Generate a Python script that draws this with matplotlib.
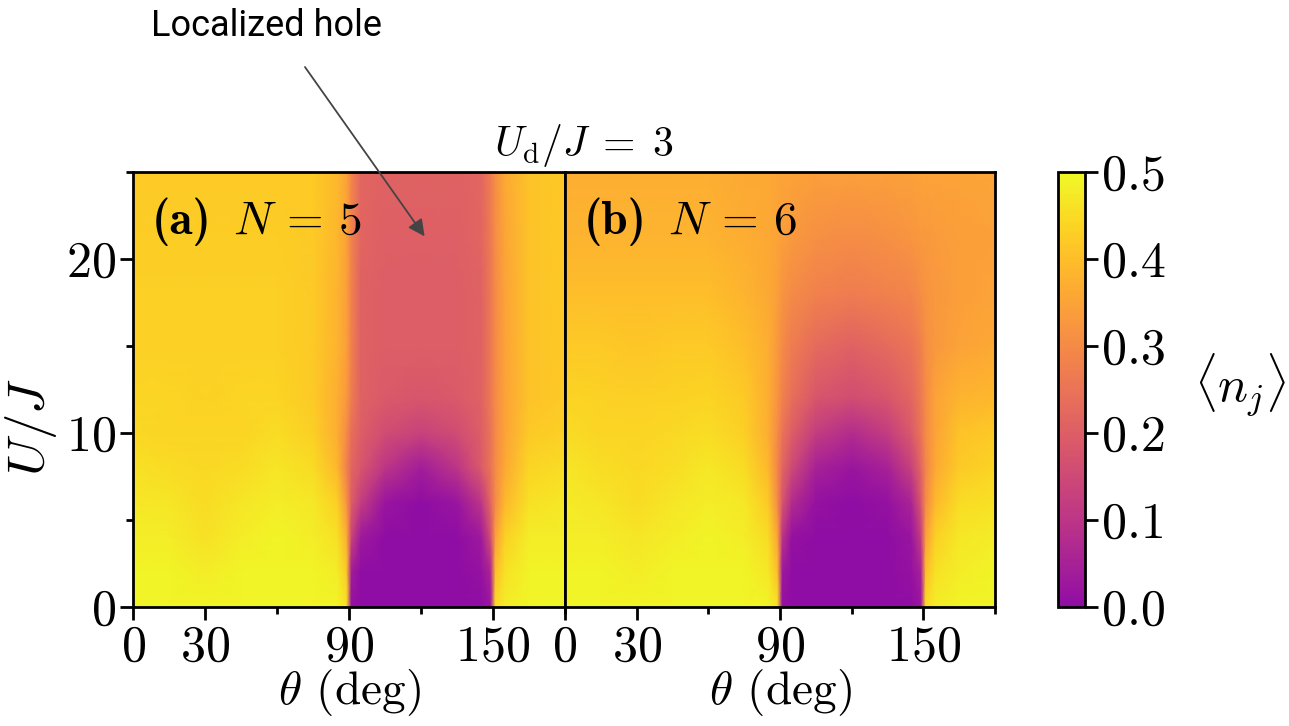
import numpy as np
import matplotlib
matplotlib.use("Agg")
import matplotlib.pyplot as plt
from matplotlib.colors import ListedColormap
from matplotlib.ticker import FormatStrFormatter

plt.rcParams["font.family"] = "serif"
plt.rcParams["font.serif"] = ["cmr10"]
plt.rcParams["mathtext.fontset"] = "cm"
plt.rcParams["axes.formatter.use_mathtext"] = True

# ---------------------------------------------------------------------------
# Data: <n_j> on a (U/J, theta) grid
# ---------------------------------------------------------------------------
theta_deg = [0, 15, 30, 45, 60, 75, 85, 89, 91, 95, 105, 120, 135, 145, 149, 151, 155, 165, 180]
u_over_j = [0, 2, 4, 6, 8, 10, 12, 15, 18, 21, 25]

# N = 5, one row per U/J value
density_n5 = [
    [.49, .49, .49, .49, .49, .49, .49, .46, .01, .00, .00, .00, .00, .00, .02, .45, .48, .49, .49],
    [.49, .49, .48, .49, .49, .49, .48, .42, .04, .00, .00, .00, .00, .01, .06, .40, .46, .49, .49],
    [.48, .48, .46, .48, .49, .48, .46, .37, .14, .03, .00, .00, .00, .03, .16, .34, .43, .48, .48],
    [.47, .465, .45, .465, .48, .47, .43, .32, .20, .12, .02, .00, .02, .10, .22, .30, .39, .46, .47],
    [.46, .45, .445, .45, .465, .45, .39, .28, .22, .18, .10, .04, .10, .19, .25, .30, .36, .44, .45],
    [.445, .44, .44, .44, .45, .43, .37, .30, .24, .20, .16, .13, .16, .20, .25, .30, .35, .42, .43],
    [.44, .44, .435, .44, .44, .42, .37, .33, .27, .21, .19, .18, .19, .21, .26, .30, .35, .41, .42],
    [.43, .43, .43, .43, .43, .42, .38, .34, .28, .21, .20, .20, .20, .21, .26, .30, .35, .41, .42],
    [.43, .43, .43, .43, .43, .42, .38, .34, .28, .21, .20, .20, .20, .21, .26, .30, .35, .41, .42],
    [.425, .425, .425, .425, .425, .42, .385, .345, .285, .215, .205, .205, .205, .215, .265, .305, .355, .41, .42],
    [.42, .42, .42, .42, .42, .42, .39, .35, .29, .22, .21, .21, .21, .22, .27, .31, .36, .41, .42],
]

# N = 6
density_n6 = [
    [.49, .49, .49, .49, .49, .49, .49, .46, .01, .00, .00, .00, .00, .00, .02, .45, .48, .49, .49],
    [.49, .49, .48, .49, .49, .49, .47, .40, .03, .00, .00, .00, .00, .01, .05, .40, .46, .48, .49],
    [.48, .48, .465, .48, .49, .48, .45, .35, .10, .01, .00, .00, .00, .02, .12, .34, .43, .47, .48],
    [.475, .465, .45, .465, .48, .47, .42, .30, .18, .08, .01, .00, .01, .06, .18, .30, .39, .45, .46],
    [.465, .455, .445, .455, .47, .45, .39, .29, .22, .15, .05, .02, .05, .13, .22, .29, .36, .42, .44],
    [.45, .44, .44, .445, .455, .43, .37, .30, .25, .20, .12, .08, .12, .19, .25, .30, .35, .41, .42],
    [.44, .435, .43, .435, .44, .42, .37, .32, .28, .24, .18, .16, .18, .22, .26, .30, .35, .38, .39],
    [.42, .42, .415, .42, .42, .40, .37, .33, .30, .27, .23, .21, .23, .25, .28, .31, .33, .35, .36],
    [.40, .40, .40, .40, .40, .38, .36, .34, .32, .30, .28, .27, .28, .29, .31, .32, .33, .34, .35],
    [.38, .38, .38, .38, .38, .37, .36, .35, .34, .33, .31, .30, .31, .32, .33, .33, .335, .34, .345],
    [.37, .37, .37, .37, .37, .36, .36, .355, .35, .35, .34, .34, .34, .345, .35, .35, .35, .35, .355],
]

panel_tags = ["(a)", "(b)"]
panel_n = [r"$N\,=\,5$", r"$N\,=\,6$"]
x_major = [0, 30, 90, 150]
x_minor = [60, 120, 180]
y_major = [0, 10, 20]
y_minor = [5, 15, 25]
cbar_ticks = [0.0, 0.1, 0.2, 0.3, 0.4, 0.5]

# plasma without its dark-blue end
cmap = ListedColormap(plt.cm.plasma(np.linspace(0.3, 1.0, 256)))

fig = plt.figure(figsize=(12.89, 7.26), dpi=100)
ax_a = fig.add_axes([0.1032, 0.1639, 0.3351, 0.5992])
ax_b = fig.add_axes([0.4383, 0.1639, 0.3336, 0.5992])
cax = fig.add_axes([0.8208, 0.1639, 0.0209, 0.5992])

LW = 2.0
n_pos = [0.2315, 0.2395]
for i, (ax, dens) in enumerate([(ax_a, density_n5), (ax_b, density_n6)]):
    mesh = ax.pcolormesh(theta_deg, u_over_j, np.array(dens), shading="gouraud",
                         cmap=cmap, vmin=0, vmax=0.5, rasterized=True)
    ax.set_xlim(0, 180)
    ax.set_ylim(0, 25)
    ax.set_xticks(x_major)
    ax.set_xticks(x_minor, minor=True)
    ax.set_yticks(y_major)
    ax.set_yticks(y_minor, minor=True)
    ax.tick_params(which="major", length=9.5, width=LW, labelsize=36, pad=3)
    ax.tick_params(which="minor", length=5, width=LW)
    for sp in ax.spines.values():
        sp.set_linewidth(LW)
    ax.set_xlabel(r"$\theta$ (deg)", fontsize=34, labelpad=-2)
    ax.text(0.044, 0.885, panel_tags[i], transform=ax.transAxes, fontsize=34,
            family="cmb10", ha="left", va="center")
    ax.text(n_pos[i], 0.885, panel_n[i], transform=ax.transAxes, fontsize=34,
            ha="left", va="center")

ax_a.set_ylabel(r"$U/J$", fontsize=38)
ax_a.yaxis.set_label_coords(-0.172, 0.414)
ax_b.tick_params(axis="y", which="both", left=False, labelleft=False)

cb = fig.colorbar(mesh, cax=cax, ticks=cbar_ticks)
cb.ax.tick_params(length=9.5, width=LW, labelsize=36, pad=3)
cb.outline.set_linewidth(LW)
cb.ax.yaxis.set_major_formatter(FormatStrFormatter("%.1f"))
fig.text(0.962, 0.47, r"$\langle n_j \rangle$", fontsize=36, ha="center", va="center")

fig.text(0.453, 0.800, r"$U_\mathrm{d}/J\;=\;3$", fontsize=30, ha="center", va="center")

# annotation
fig.text(0.207, 0.964, "Localized hole", fontsize=26, family="Roboto",
         ha="center", va="center")
ax_a.annotate("", xy=(121.5, 21.3), xycoords="data",
              xytext=(0.2366, 0.9077), textcoords="figure fraction",
              arrowprops=dict(arrowstyle="-|>", color="#444444", lw=1.3,
                              mutation_scale=25, shrinkA=0, shrinkB=0),
              annotation_clip=False)

fig.savefig("out.png", dpi=100)
